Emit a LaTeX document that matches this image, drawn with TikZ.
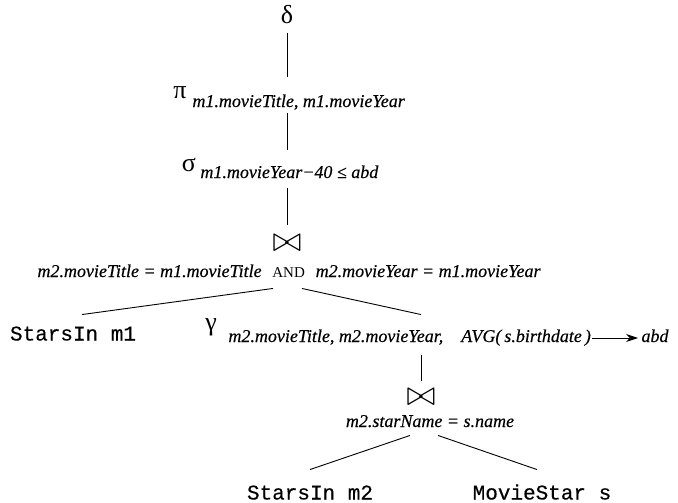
\documentclass[tikz,border=0pt]{standalone}
\usepackage{graphicx}
\usepackage{fontspec}
\setmainfont{Liberation Serif}[ItalicFeatures={FakeBold=0.4}]
\setmonofont{Liberation Mono}[FakeBold=0.3]
\usetikzlibrary{arrows.meta}
\begin{document}
\begin{tikzpicture}[x=1pt,y=-1pt,line width=0.9pt,
	lbl/.style={font=\fontsize{18}{20}\selectfont\itshape,inner sep=0pt,text height=12pt,text depth=4pt},
	rel/.style={font=\fontsize{21}{22}\selectfont\ttfamily,inner sep=0pt,text height=12pt,text depth=3pt},
	op/.style={font=\fontsize{26}{26}\selectfont,inner sep=0pt},
	jn/.style={font=\fontsize{20}{20}\selectfont,inner sep=0pt}]
	\useasboundingbox (0,0) rectangle (678,503);
	\node[op] (delta) at (287,15) {δ};
	\node[op] (pisym) at (180,93) {π};
	\node[lbl,anchor=west] (projsub) at (192,103) {m1.movieTitle, m1.movieYear};
	\node[op] (sigsym) at (189,165) {σ};
	\node[lbl,anchor=west] (selsub) at (200,174) {m1.movieYear−40 ≤ abd};
	\node[jn] (join1) at (287,243) {\scalebox{1.7}{$\bowtie$}};
	\node[lbl] (jlab1) at (289,273) {m2.movieTitle = m1.movieTitle\hspace{0.6em}{\upshape\fontsize{15}{15}\selectfont AND}\hspace{0.6em}m2.movieYear = m1.movieYear};
	\node[rel] (sm1) at (73,336) {StarsIn m1};
	\node[op] (gamsym) at (211,327) {γ};
	\node[lbl,anchor=west] (gamsub) at (228,338) {m2.movieTitle, m2.movieYear,\hspace{1em}AVG(\,s.birthdate\,)};
	\node[lbl] (abd) at (655,338) {abd};
	\node[jn] (join2) at (421,397) {\scalebox{1.7}{$\bowtie$}};
	\node[lbl] (jlab2) at (430,423) {m2.starName = s.name};
	\node[rel] (sm2) at (310,495) {StarsIn m2};
	\node[rel] (ms) at (542,495) {MovieStar s};
	\draw[shorten <=8pt,shorten >=18pt] (delta.south) -- (delta |- projsub.north);
	\draw[shorten <=2pt,shorten >=16pt] (delta |- projsub.south) -- (delta |- selsub.north);
	\draw[shorten <=6pt,shorten >=9pt] (delta |- selsub.south) -- (delta |- join1.north);
	\draw ([xshift=-16pt,yshift=-7pt]jlab1.south) -- ([xshift=9pt,yshift=13.5pt]sm1.north);
	\draw ([xshift=13pt,yshift=-7pt]jlab1.south) -- ([yshift=15pt]join2 |- gamsub.north);
	\draw[-{Stealth[length=12pt,width=8pt]},shorten <=1pt,shorten >=3pt] (gamsub) -- (abd);
	\draw[shorten <=9pt,shorten >=7pt] (join2 |- gamsub.south) -- (join2.north);
	\draw ([xshift=-20pt,yshift=-4pt]jlab2.south) -- ([yshift=17.5pt]sm2.north);
	\draw ([xshift=8pt,yshift=-4pt]jlab2.south) -- ([xshift=-5pt,yshift=17.5pt]ms.north);
\end{tikzpicture}
\end{document}
